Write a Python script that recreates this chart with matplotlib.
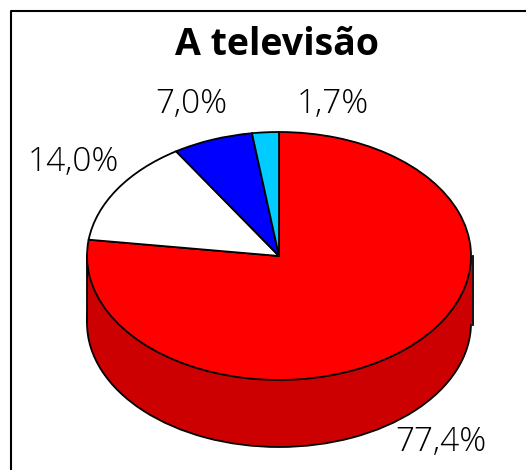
# -*- coding: utf-8 -*-
import numpy as np
import matplotlib.pyplot as plt
from matplotlib.lines import Line2D

# Valores das etiquetas
labels = ['77,4%', '14,0%', '7,0%', '1,7%']
# Fatias como aparecem no desenho (a perspetiva deforma um pouco os angulos)
shares = [77.1, 13.9, 6.75, 2.25]
colors = ['#FF0000', '#FFFFFF', '#0000FF', '#00CCFF']
title = 'A televisão'

W, H = 526, 470
plt.rcParams['font.family'] = ['Open Sans', 'DejaVu Sans']

fig = plt.figure(figsize=(W / 100, H / 100), dpi=100)
ax = fig.add_axes([0, 0, 1, 1])

# Elipse do topo em pixeis
cx, cy, rx, ry = 279, 256, 192, 124
depth = 67 / ry
lw = 1.3

# Parede lateral
side = '#CC0000'
ax.pie([1], colors=[side], center=(0, -depth), radius=1,
       wedgeprops={'edgecolor': 'black', 'linewidth': lw})
ax.fill_between([-1, 1], [-depth, -depth], [0, 0], color=side, zorder=2)
ax.plot([-1, -1], [-depth, 0], color='black', lw=lw, zorder=3)
ax.plot([1.01, 1.01], [-depth - 0.02, 0], color='black', lw=lw, zorder=3)

# Topo
wedges, _ = ax.pie(shares, colors=colors, startangle=90, counterclock=False,
                   wedgeprops={'edgecolor': 'black', 'linewidth': lw})
for w in wedges:
    w.set_zorder(4)

ax.set_aspect('auto')
ax.set_xlim(-cx / rx, (W - cx) / rx)
ax.set_ylim((cy - H) / ry, cy / ry)
ax.axis('off')

# Moldura
fig.add_artist(Line2D([10.5 / W, 10.5 / W, 1], [0, 1 - 11 / H, 1 - 11 / H],
                      color='black', lw=1.5))

fig.text(277 / W, 1 - 45 / H, title, fontsize=27, fontweight='bold',
         ha='center', va='center')
fig.text(441 / W, 1 - 442 / H, labels[0], fontsize=24, fontweight='light', ha='center', va='center')
fig.text(73 / W, 1 - 162 / H, labels[1], fontsize=24, fontweight='light', ha='center', va='center')
fig.text(191 / W, 1 - 104 / H, labels[2], fontsize=24, fontweight='light', ha='center', va='center')
fig.text(333 / W, 1 - 104 / H, labels[3], fontsize=24, fontweight='light', ha='center', va='center')

fig.savefig('out.png', dpi=100)
